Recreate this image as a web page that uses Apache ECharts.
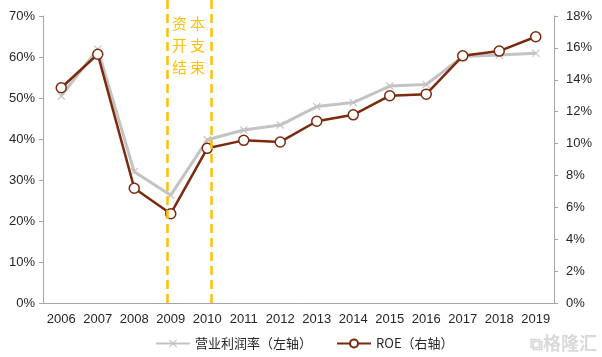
<!DOCTYPE html>
<html><head><meta charset="utf-8">
<script src="https://cdn.jsdelivr.net/npm/echarts@6/dist/echarts.min.js"></script>
<style>html,body{margin:0;padding:0;background:#fff}#c{width:602px;height:357px}</style>
</head><body><div id="c"></div>
<script>
const categories = ['2006','2007','2008','2009','2010','2011','2012','2013','2014','2015','2016','2017','2018','2019'];
const operatingMargin = [50.5, 61.9, 32.0, 26.3, 39.8, 42.2, 43.4, 47.9, 48.9, 52.9, 53.3, 60.1, 60.5, 60.9];
const roe = [13.5, 15.6, 7.2, 5.6, 9.7, 10.2, 10.1, 11.4, 11.8, 13.0, 13.1, 15.5, 15.8, 16.7];
const capexEndMarks = [3.4, 4.6];
const leftTicks = {min: 0, max: 70, interval: 10};
const rightTicks = {min: 0, max: 18, interval: 2};

const chart = echarts.init(document.getElementById('c'), null, {renderer: 'canvas'});
const font = 'Liberation Sans, Arial, sans-serif';
const cjk = '"Noto Sans CJK SC", sans-serif';
const xShape = 'path://M0,1L1,0L5,4L9,0L10,1L6,5L10,9L9,10L5,6L1,10L0,9L4,5Z';
const annoStyle = {fill: '#ffc000', font: '15px "Noto Sans CJK SC"', lineHeight: 22};
chart.setOption({
  animation: false,
  grid: [
    {left: 43, right: 48, top: 16, bottom: 54},
    {left: 43, right: 48, top: 0, bottom: 54}
  ],
  xAxis: [{
    type: 'category', data: categories, boundaryGap: true, gridIndex: 0,
    axisLine: {lineStyle: {color: '#a6a6a6', width: 1}},
    axisTick: {inside: true, interval: 1, length: 5, lineStyle: {color: '#a6a6a6'}},
    axisLabel: {color: '#262626', fontSize: 13, fontFamily: font, margin: 10, interval: 0}
  }, {
    type: 'value', min: 0, max: categories.length, show: false, gridIndex: 1
  }],
  yAxis: [{
    type: 'value', min: leftTicks.min, max: leftTicks.max, interval: leftTicks.interval, gridIndex: 0,
    axisLine: {show: true, lineStyle: {color: '#a6a6a6'}},
    axisTick: {show: true, length: 4, lineStyle: {color: '#a6a6a6'}},
    splitLine: {show: false},
    axisLabel: {color: '#262626', fontSize: 13, fontFamily: font, formatter: '{value}%', margin: 8}
  }, {
    type: 'value', min: rightTicks.min, max: rightTicks.max, interval: rightTicks.interval, gridIndex: 0,
    position: 'right',
    axisLine: {show: true, lineStyle: {color: '#a6a6a6'}},
    axisTick: {show: true, length: 4, lineStyle: {color: '#a6a6a6'}},
    splitLine: {show: false},
    axisLabel: {color: '#262626', fontSize: 13, fontFamily: font, formatter: '{value}%', margin: 12}
  }, {
    type: 'value', min: 0, max: 1, show: false, gridIndex: 1
  }],
  legend: {
    bottom: 2, left: 150, itemWidth: 34, itemHeight: 10, itemGap: 24,
    textStyle: {color: '#262626', fontSize: 13, fontFamily: cjk},
    data: ['营业利润率（左轴）', 'ROE（右轴）']
  },
  series: [{
    name: '营业利润率（左轴）', type: 'line', data: operatingMargin,
    yAxisIndex: 0, xAxisIndex: 0,
    lineStyle: {color: '#c3c3c3', width: 3},
    itemStyle: {color: '#c3c3c3'},
    symbol: xShape, symbolSize: 8, z: 2
  }, {
    name: 'ROE（右轴）', type: 'line', data: roe,
    yAxisIndex: 1, xAxisIndex: 0,
    lineStyle: {color: '#7b2a0e', width: 2.5},
    itemStyle: {color: '#ffffff', borderColor: '#7b2a0e', borderWidth: 1.5},
    symbol: 'circle', symbolSize: 10, z: 3
  }, {
    name: 'marks', type: 'line', data: [], xAxisIndex: 1, yAxisIndex: 2,
    silent: true,
    markLine: {
      silent: true, symbol: 'none', label: {show: false},
      lineStyle: {color: '#ffc000', width: 2.5, type: [9, 5]},
      data: capexEndMarks.map(v => ({xAxis: v}))
    }
  }],
  graphic: [{
    type: 'text', left: 172, top: 12,
    style: Object.assign({text: '资\n开\n结'}, annoStyle)
  }, {
    type: 'text', left: 190, top: 12,
    style: Object.assign({text: '本\n支\n束'}, annoStyle)
  }, {
    type: 'text', right: 5, bottom: 5,
    style: {text: '⧉格隆汇', fill: '#d9d9d9', font: 'bold 18px "Noto Sans CJK SC"'}
  }]
});
</script></body></html>
